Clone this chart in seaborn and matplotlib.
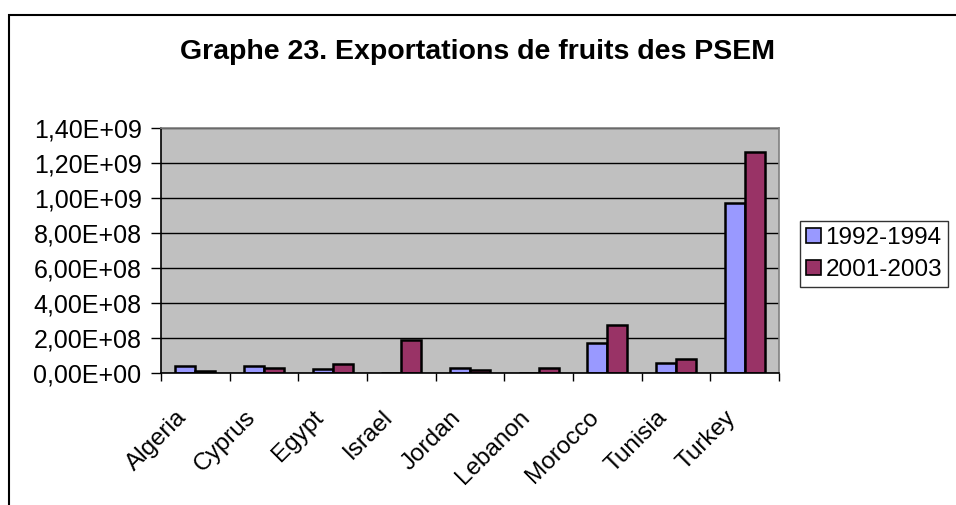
import matplotlib
matplotlib.use("Agg")
import matplotlib.pyplot as plt
import matplotlib.patches as mpatches
from matplotlib.ticker import FixedLocator, FuncFormatter
import pandas as pd
import seaborn as sns

countries = ["Algeria", "Cyprus", "Egypt", "Israel", "Jordan",
             "Lebanon", "Morocco", "Tunisia", "Turkey"]
exp_1992_1994 = [4.0e7, 4.0e7, 2.1e7, 0.0, 2.7e7, 0.0, 1.73e8, 5.9e7, 9.71e8]
exp_2001_2003 = [1.3e7, 2.9e7, 5.3e7, 1.89e8, 1.7e7, 2.7e7, 2.72e8, 8.2e7, 1.263e9]
periods = ["1992-1994", "2001-2003"]
colors = ["#9999FF", "#993366"]

df = pd.DataFrame({
    "country": countries * 2,
    "period": [periods[0]] * len(countries) + [periods[1]] * len(countries),
    "value": exp_1992_1994 + exp_2001_2003,
})

sns.set_style("white", {"text.color": "black", "xtick.color": "black",
                        "ytick.color": "black", "axes.labelcolor": "black"})
plt.rcParams["font.family"] = ["Liberation Sans", "DejaVu Sans"]

fig = plt.figure(figsize=(9.56, 5.05), dpi=100)
W, H = 956, 505
ax = fig.add_axes([161 / W, 1 - 373 / H, (779 - 161) / W, (373 - 128) / H])

# outer chart frame
fig.patches.append(mpatches.Rectangle((8.5 / W, -0.05), 1.2, 1 - 14.5 / H + 0.05,
                                      transform=fig.transFigure, fill=False,
                                      edgecolor="black", linewidth=1.5))

sns.barplot(data=df, x="country", y="value", hue="period", palette=colors,
            saturation=1, width=0.58, gap=0, edgecolor="black", linewidth=1.8,
            ax=ax, legend=False)

ax.set_facecolor("#C0C0C0")
ax.set_ylim(0, 1.4e9)
ax.set_xlim(-0.5, len(countries) - 0.5)
ax.set_yticks([i * 2e8 for i in range(8)])
ax.yaxis.set_major_formatter(FuncFormatter(lambda v, p: f"{v:.2E}".replace(".", ",")))
ax.grid(axis="y", color="black", linewidth=1)
ax.set_axisbelow(True)
ax.set_xlabel("")
ax.set_ylabel("")

for s in ["top", "right"]:
    ax.spines[s].set_color("#808080")
    ax.spines[s].set_linewidth(1.2)
for s in ["left", "bottom"]:
    ax.spines[s].set_color("black")
    ax.spines[s].set_linewidth(1.2)

ax.tick_params(axis="y", left=True, length=7, width=1, color="black",
               labelcolor="black", labelsize=18, pad=7)

# labels sit a little left of the category centre, like the original
ax.set_xticks([i - 0.29 for i in range(len(countries))])
ax.set_xticklabels(countries)
ax.tick_params(axis="x", which="major", length=0, labelcolor="black",
               labelsize=17.5, pad=24)
ax.xaxis.set_minor_locator(FixedLocator([i - 0.5 for i in range(len(countries) + 1)]))
ax.tick_params(axis="x", which="minor", bottom=True, length=6, width=1, color="black")
for lab in ax.get_xticklabels():
    lab.set_rotation(45)
    lab.set_ha("right")
    lab.set_va("top")
    lab.set_rotation_mode("anchor")

fig.text(477 / W, 1 - 52 / H, "Graphe 23. Exportations de fruits des PSEM",
         ha="center", va="center", fontsize=20.5, fontweight="bold", color="black")

handles = [mpatches.Patch(facecolor=c, edgecolor="black", linewidth=1.2, label=p)
           for c, p in zip(colors, periods)]
leg = fig.legend(handles=handles, loc="center left",
                 bbox_to_anchor=(800 / W, 1 - 254 / H), fontsize=17.5,
                 frameon=True, fancybox=False, handlelength=0.6,
                 handleheight=0.6, handletextpad=0.2, borderpad=0.25,
                 labelspacing=0.4, borderaxespad=0, labelcolor="black")
leg.get_frame().set_edgecolor("black")
leg.get_frame().set_linewidth(1)

fig.savefig("out.png", dpi=100)
